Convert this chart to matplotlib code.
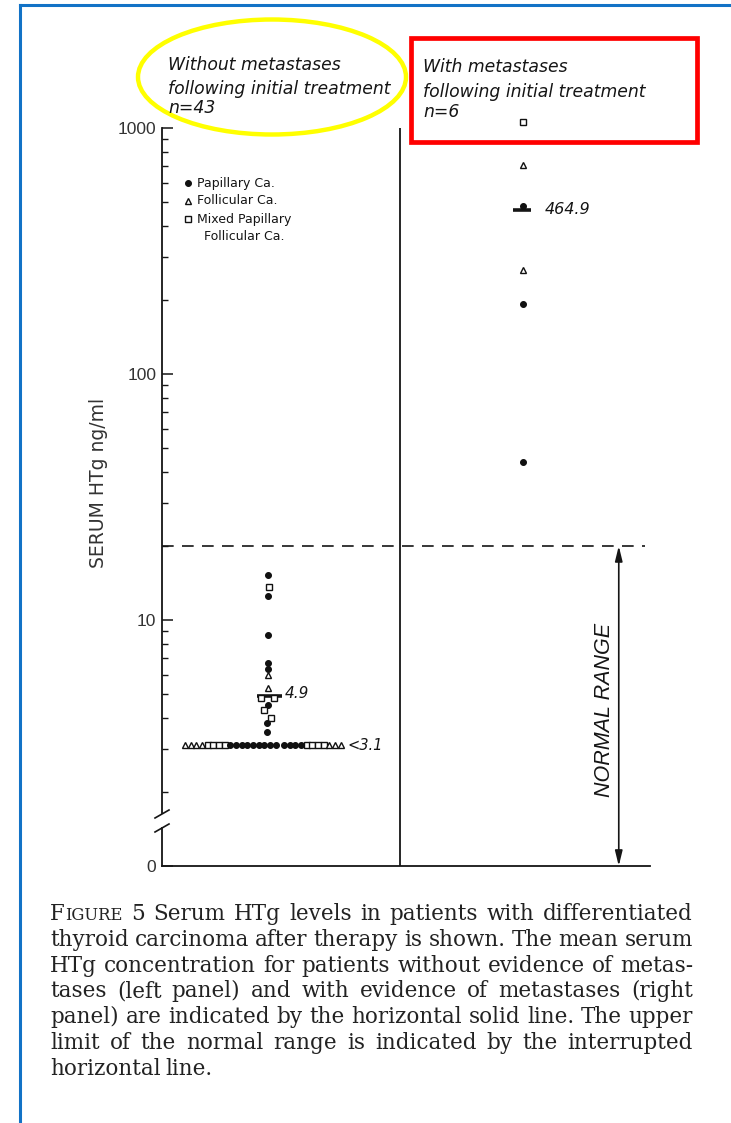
import numpy as np
import matplotlib.pyplot as plt
from matplotlib.lines import Line2D
from matplotlib.patches import Ellipse, Rectangle

W, H = 731, 1123

# Serum HTg (ng/ml) - patients without metastases, measurable values
no_met_values = [15.2, 13.6, 12.5, 8.7, 6.7, 6.3, 6.0, 5.3, 4.8, 4.8, 4.5, 4.3, 4.0, 3.8, 3.5]
no_met_types = ['P', 'M', 'P', 'P', 'P', 'P', 'F', 'F', 'M', 'M', 'P', 'M', 'M', 'P', 'P']
no_met_x = [0.217, 0.220, 0.217, 0.217, 0.217, 0.217, 0.217, 0.217,
            0.203, 0.229, 0.217, 0.210, 0.224, 0.216, 0.215]
# patients below the detection limit
below_limit = 3.1
below_types = ['F'] * 4 + ['M'] * 4 + ['P'] * 9 + ['P'] * 4 + ['M'] * 4 + ['F'] * 3
no_met_mean = 4.9

# patients with metastases
met_values = [1060, 705, 480, 265, 192, 44]
met_types = ['M', 'F', 'P', 'F', 'P', 'P']
met_mean = 464.9

normal_upper = 20

# marker style per histology
styles = {
    'P': dict(marker='o', ms=4.2, mfc='#111', mec='#111', mew=0.8),
    'F': dict(marker='^', ms=5.0, mfc='white', mec='#111', mew=1.0),
    'M': dict(marker='s', ms=4.4, mfc='white', mec='#111', mew=1.0),
}
INK = '#151515'


def fx(px):
    return px / W


def fy(py):
    return 1 - py / H


fig = plt.figure(figsize=(W / 100, H / 100), dpi=100)
ax = fig.add_axes([fx(162), fy(866), fx(650) - fx(162), (866 - 128) / H])
ax.set_yscale('log')
ax.set_ylim(1, 1000)
ax.set_xlim(0, 1)

# left panel
for v, t, x in zip(no_met_values, no_met_types, no_met_x):
    ax.plot(x, v, ls='none', clip_on=False, zorder=3, **styles[t])
xs_row = 0.047 + 0.0116 * np.arange(len(below_types)) + 0.006 * (np.arange(len(below_types)) >= 17)
for x, t in zip(xs_row, below_types):
    ax.plot(x, below_limit, ls='none', clip_on=False, zorder=3, **styles[t])
ax.plot([0.195, 0.246], [no_met_mean, no_met_mean], color=INK, lw=2.6, solid_capstyle='butt')
ax.text(0.252, no_met_mean * 1.03, '4.9', fontsize=11, style='italic', color=INK,
        ha='left', va='center')
ax.text(0.381, below_limit, '<3.1', fontsize=10.5, style='italic', color=INK,
        ha='left', va='center')

# right panel
for v, t in zip(met_values, met_types):
    ax.plot(0.740, v, ls='none', clip_on=False, zorder=3, **styles[t])
ax.plot([0.719, 0.757], [met_mean, met_mean], color=INK, lw=2.6, solid_capstyle='butt')
ax.text(0.785, met_mean, '464.9', fontsize=11.5, style='italic', color=INK,
        ha='left', va='center')

# panel divider, upper limit of normal and the normal range arrow
ax.plot([0.488, 0.488], [1, 1000], color=INK, lw=1.3)
ax.plot([0, 0.99], [normal_upper, normal_upper], color=INK, lw=1.2, dashes=(7, 5))
ax.annotate('', xy=(0.936, 1), xytext=(0.936, normal_upper),
            arrowprops=dict(arrowstyle='<|-|>,head_length=0.9,head_width=0.22',
                            color=INK, lw=1.2, shrinkA=0, shrinkB=0))
ax.text(0.906, 4.3, 'NORMAL RANGE', rotation=90, fontsize=15.5, style='italic',
        family=['Liberation Sans Narrow', 'Liberation Sans'], color=INK,
        ha='center', va='center')

# axes: log scale with a broken left spine
for s in ['top', 'right', 'left']:
    ax.spines[s].set_visible(False)
ax.spines['bottom'].set_linewidth(1.3)
ax.spines['bottom'].set_color(INK)
ax.set_xticks([])
ax.set_yticks([1, 10, 100, 1000])
ax.set_yticklabels(['0', '10', '100', '1000'])
minors = [m * 10 ** k for k in range(3) for m in range(2, 10)]
ax.set_yticks(minors, minor=True)
ax.yaxis.set_minor_formatter(plt.NullFormatter())
ax.tick_params(axis='y', which='major', direction='in', length=8, width=1.1,
               labelsize=12.5, labelcolor='#333', pad=4, color=INK)
ax.tick_params(axis='y', which='minor', direction='in', length=4.5, width=1.0, color=INK)
for lab in ax.get_yticklabels():
    lab.set_family('Liberation Sans')

ax.plot([0, 0], [0, 38 / 738], transform=ax.transAxes, color=INK, lw=1.3, clip_on=False)
ax.plot([0, 0], [53 / 738, 1], transform=ax.transAxes, color=INK, lw=1.3, clip_on=False)
for y0 in [34 / 738, 48 / 738]:
    ax.plot([-7 / 488, 7 / 488], [y0, y0 + 8 / 738], transform=ax.transAxes,
            color=INK, lw=1.2, clip_on=False)

fig.text(fx(98), fy(483), 'SERUM HTg ng/ml', rotation=90, fontsize=13.5,
         color='#333', ha='center', va='center')

# legend
leg_rows = [('P', 'Papillary Ca.', 183), ('F', 'Follicular Ca.', 201), ('M', 'Mixed Papillary', 219)]
for t, label, py in leg_rows:
    fig.add_artist(Line2D([fx(188)], [fy(py)], transform=fig.transFigure, ls='none', **styles[t]))
    fig.text(fx(197), fy(py), label, fontsize=9, color=INK, ha='left', va='center')
fig.text(fx(204), fy(237), 'Follicular Ca.', fontsize=9, color=INK, ha='left', va='center')

# group headings
head = dict(fontsize=12.4, style='italic', family='DejaVu Sans', color=INK,
            ha='left', va='center')
for txt, py in [('Without metastases', 65), ('following initial treatment', 89), ('n=43', 108)]:
    fig.text(fx(168), fy(py), txt, **head)
for txt, py in [('With metastases', 67), ('following initial treatment', 92), ('n=6', 112)]:
    fig.text(fx(423), fy(py), txt, **head)

fig.add_artist(Ellipse((fx(272), fy(77)), fx(268), 115 / H, transform=fig.transFigure,
                       fill=False, ec='#ffff00', lw=3.2))
fig.add_artist(Rectangle((fx(411), fy(142)), fx(697) - fx(411), 104 / H,
                         transform=fig.transFigure, fill=False, ec='#ff0000', lw=3.4))

# frame
fig.add_artist(Line2D([fx(20), fx(20)], [0, fy(5)], transform=fig.transFigure,
                      color='#1272c6', lw=2.2))
fig.add_artist(Line2D([fx(20), 1], [fy(5), fy(5)], transform=fig.transFigure,
                      color='#1272c6', lw=2.2))

# caption, fully justified
caption = [
    'FIGURE 5  Serum HTg levels in patients with differentiated',
    'thyroid carcinoma after therapy is shown. The mean serum',
    'HTg concentration for patients without evidence of metas-',
    'tases (left panel) and with evidence of metastases (right',
    'panel) are indicated by the horizontal solid line. The upper',
    'limit of the normal range is indicated by the interrupted',
    'horizontal line.',
]
cap_size = 15.5
cap_font = 'DejaVu Serif'
renderer = fig.canvas.get_renderer()


def word_pieces(word):
    if word == 'FIGURE':
        return [('F', cap_size), ('IGURE', cap_size * 0.76)]
    return [(word, cap_size)]


x_left, x_right = 50, 693
for k, line in enumerate(caption):
    py = 915 + k * 25.8
    words = line.split()
    items = []
    for w in words:
        parts = []
        for s, size in word_pieces(w):
            t = fig.text(0, fy(py), s, fontsize=size, family=cap_font,
                         color='#222', ha='left', va='baseline')
            parts.append((t, t.get_window_extent(renderer).width))
        items.append(parts)
    widths = [sum(p[1] for p in parts) for parts in items]
    if k < len(caption) - 1:
        gap = (x_right - x_left - sum(widths)) / (len(words) - 1)
    else:
        gap = 5.0
    x = x_left
    for parts, wd in zip(items, widths):
        xx = x
        for t, pw in parts:
            t.set_position((fx(xx), fy(py + 5)))
            xx += pw
        x += wd + gap

fig.savefig('out.png', dpi=100)
